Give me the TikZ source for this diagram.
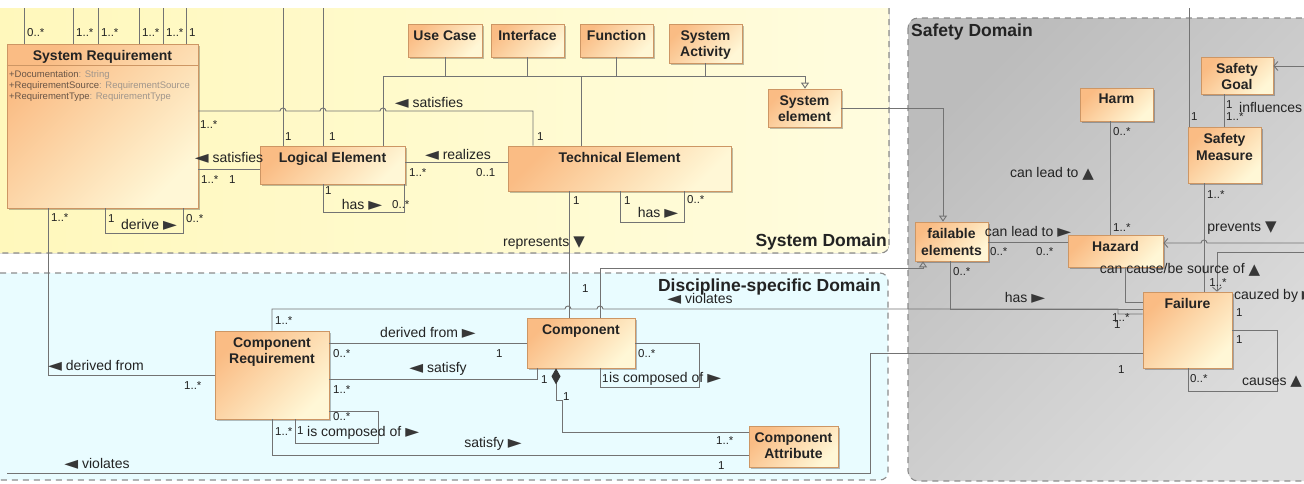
\documentclass[tikz,border=0pt]{standalone}
\usepackage{fontspec}
\setmainfont{Liberation Sans}
\newfontfamily\dv{DejaVu Sans}
\usetikzlibrary{arrows.meta,shadows}
\definecolor{ocA}{RGB}{250,188,132}
\definecolor{ocB}{RGB}{255,247,214}
\definecolor{bordc}{RGB}{205,150,100}
\definecolor{lnc}{RGB}{115,115,115}
\definecolor{txt}{RGB}{35,35,35}
\definecolor{tri}{RGB}{55,55,55}
\definecolor{yelA}{RGB}{255,248,188}
\definecolor{yelB}{RGB}{255,252,222}
\definecolor{cyA}{RGB}{233,252,255}
\definecolor{gyA}{RGB}{188,188,188}
\definecolor{gyB}{RGB}{222,222,222}
\definecolor{dashc}{RGB}{140,140,140}
\definecolor{attn}{RGB}{105,85,70}
\definecolor{attt}{RGB}{160,150,140}
\newcommand{\TriR}{\raisebox{-0.6pt}{\dv\fontsize{18}{18}\selectfont\color{tri}►}}
\newcommand{\TriL}{\raisebox{-0.6pt}{\dv\fontsize{18}{18}\selectfont\color{tri}◄}}
\newcommand{\TriU}{\raisebox{-0.6pt}{\dv\fontsize{15}{15}\selectfont\color{tri}▲}}
\newcommand{\TriD}{\raisebox{-0.6pt}{\dv\fontsize{15}{15}\selectfont\color{tri}▼}}
\begin{document}
\begin{tikzpicture}[x=1pt,y=-1pt,
  cls/.style={draw=bordc,line width=0.7pt,left color=ocA,right color=ocB,shading angle=45,
     drop shadow={shadow xshift=2pt,shadow yshift=-2pt,fill=black,opacity=0.25},inner sep=0pt},
  ttl/.style={anchor=north,align=center,inner xsep=2pt,inner ysep=6.5pt,text=txt,
     font=\fontsize{14}{16.5}\selectfont\bfseries},
  conn/.style={draw=lnc,line width=0.9pt},
  mult/.style={anchor=west,inner sep=0pt,text=txt,font=\fontsize{11.5}{12}\selectfont},
  lbl/.style={inner sep=0pt,text=txt,font=\fontsize{14}{16}\selectfont},
  dom/.style={draw=dashc,line width=1.1pt,dash pattern=on 6pt off 5pt},
  domlbl/.style={inner sep=0pt,text=txt,font=\fontsize{17.5}{20}\selectfont\bfseries},
  gen/.style={conn,-{Triangle[open,length=6pt,width=8pt]}},
  nav/.style={conn,-{Straight Barb[length=4pt,width=9pt]}},
  attr/.style={anchor=west,inner sep=0pt,font=\fontsize{9.5}{11}\selectfont},
]
\useasboundingbox (0,0) rectangle (1304,483);
\fill[white] (0,0) rectangle (1304,483);
% ---------- domains
\fill[left color=yelA,right color=yelB] (0,8) -- (889,8) -- (889,245) arc[start angle=0,end angle=90,radius=8] -- (0,253) -- cycle;
\draw[dom] (889,8) -- (889,245) arc[start angle=0,end angle=90,radius=8] -- (0,253);
\fill[cyA] (0,273) -- (880,273) arc[start angle=-90,end angle=0,radius=8] -- (888,472) arc[start angle=0,end angle=90,radius=8] -- (0,480) -- cycle;
\draw[dom] (0,273) -- (880,273) arc[start angle=-90,end angle=0,radius=8] -- (888,472) arc[start angle=0,end angle=90,radius=8] -- (0,480);
\draw[dom,left color=gyA,right color=gyB,shading angle=45,rounded corners=10pt] (908,18) rectangle (1330,481);
\node[domlbl,anchor=east] (sdl) at (887,242) {System Domain};
\node[domlbl,anchor=east] (dsl) at (881,287) {Discipline-specific Domain};
\node[domlbl,anchor=west] (sfl) at (911,32) {Safety Domain};
% ---------- classes
\node[cls,minimum width=191pt,minimum height=164pt] (sr) at (102.5,126) {};
\node[ttl] (srt) at (sr.north) {\underline{System Requirement}};
\draw[draw=bordc,line width=0.7pt] (sr.west |- 0,65) -- (sr.east |- 0,65);
\node[attr] (a1) at (9,75) {\textcolor{attn}{+Documentation}\textcolor{attt}{ : String}};
\node[attr] (a2) at (9,86) {\textcolor{attn}{+RequirementSource}\textcolor{attt}{ : RequirementSource}};
\node[attr] (a3) at (9,97) {\textcolor{attn}{+RequirementType}\textcolor{attt}{ : RequirementType}};
\node[cls,minimum width=74pt,minimum height=33pt] (uc) at (445,40.5) {};
\node[ttl] at (uc.north) {Use Case};
\node[cls,minimum width=73pt,minimum height=33pt] (ifc) at (527.5,40.5) {};
\node[ttl] at (ifc.north) {Interface};
\node[cls,minimum width=73pt,minimum height=33pt] (fn) at (616.5,40.5) {};
\node[ttl] at (fn.north) {Function};
\node[cls,minimum width=73pt,minimum height=39pt] (sa) at (705.5,43.5) {};
\node[ttl] at (sa.north) {System\\Activity};
\node[cls,minimum width=73pt,minimum height=38pt] (se) at (804.5,108) {};
\node[ttl] at (se.north) {System\\element};
\node[cls,minimum width=145pt,minimum height=38pt] (le) at (332.5,165) {};
\node[ttl] at (le.north) {Logical Element};
\node[cls,minimum width=223pt,minimum height=45pt] (te) at (619.5,168.5) {};
\node[ttl] at (te.north) {Technical Element};
\node[cls,minimum width=114pt,minimum height=88pt] (cr) at (272,375) {};
\node[ttl] at (cr.north) {Component\\Requirement};
\node[cls,minimum width=108pt,minimum height=50pt] (co) at (581,343) {};
\node[ttl] at (co.north) {Component};
\node[cls,minimum width=89pt,minimum height=41pt] (ca) at (793.5,446.5) {};
\node[ttl] at (ca.north) {Component\\Attribute};
\node[cls,minimum width=72pt,minimum height=37pt] (sg) at (1237,75.5) {};
\node[ttl] at (sg.north) {Safety\\Goal};
\node[cls,minimum width=73pt,minimum height=33pt] (hm) at (1116.5,104.5) {};
\node[ttl] at (hm.north) {Harm};
\node[cls,minimum width=73pt,minimum height=56pt] (sm) at (1224.5,155) {};
\node[ttl] at (sm.north) {Safety\\Measure};
\node[cls,minimum width=73pt,minimum height=39pt] (fe) at (951.5,241.5) {};
\node[ttl] at (fe.north) {failable\\elements};
\node[cls,minimum width=95pt,minimum height=32pt] (hz) at (1115.5,251) {};
\node[ttl] at (hz.north) {Hazard};
\node[cls,minimum width=89pt,minimum height=76pt] (fa) at (1187.5,330) {};
\node[ttl] at (fa.north) {Failure};
% ---------- lines from above into System Requirement
\coordinate (t1) at (24,8); \coordinate (t2) at (73,8); \coordinate (t3) at (98,8);
\coordinate (t4) at (139,8); \coordinate (t5) at (163,8); \coordinate (t6) at (186,8);
\coordinate (t7) at (283,8); \coordinate (t8) at (323,8);
\draw[conn] (t1) -- (sr.north -| t1); \node[mult] at (27,33) {0..*};
\draw[conn] (t2) -- (sr.north -| t2); \node[mult] at (76,33) {1..*};
\draw[conn] (t3) -- (sr.north -| t3); \node[mult] at (101,33) {1..*};
\draw[conn] (t4) -- (sr.north -| t4); \node[mult] at (142,33) {1..*};
\draw[conn] (t5) -- (sr.north -| t5); \node[mult] at (166,33) {1..*};
\draw[conn] (t6) -- (sr.north -| t6); \node[mult] at (189,33) {1};
\draw[conn] (t7) -- (le.north -| t7); \node[mult] at (285,137) {1};
\draw[conn] (t8) -- (le.north -| t8); \node[mult] at (329,137) {1};
% ---------- generalization to System element
\coordinate (bus) at (805,76);
\draw[conn] (le.north -| 383,0) |- (bus);
\draw[gen] (bus) -- (se.north -| bus);
\draw[conn] (uc.south) -- (uc.south |- bus);
\draw[conn] (ifc.south) -- (ifc.south |- bus);
\draw[conn] (fn.south) -- (fn.south |- bus);
\draw[conn] (sa.south) -- (sa.south |- bus);
\draw[conn] (te.north -| 581,0) -- (581,76);
% ---------- satisfies TE -> SR
\draw[conn] (te.north -| 533,0) |- (386,111) arc[start angle=0,end angle=-180,radius=3] -- (326,111) arc[start angle=0,end angle=-180,radius=3] -- (286,111) arc[start angle=0,end angle=-180,radius=3] -- (sr.east |- 0,111);
\node[lbl] at (429,103) {\TriL\ satisfies};
\node[mult] at (200,125) {1..*};
\node[mult] at (537,137) {1};
% ---------- satisfies LE -> SR
\draw[conn] (le.west |- 0,169) -- (sr.east |- 0,169);
\node[lbl] at (229,158) {\TriL\ satisfies};
\node[mult] at (201,180) {1..*};
\node[mult] at (229,180) {1};
% ---------- derive loop
\draw[conn] (sr.south -| 105,0) |- (183,233) -- (sr.south -| 183,0);
\node[mult] at (108,219) {1};
\node[lbl] at (149,225) {derive \TriR};
\node[mult] at (186,219) {0..*};
% ---------- derived from SR -> CR
\draw[conn] (sr.south -| 48,0) |- (cr.west |- 0,375);
\node[mult] at (51,218) {1..*};
\node[lbl] at (96,366) {\TriL\ derived from};
\node[mult] at (184,386) {1..*};
% ---------- realizes
\draw[conn] (te.west |- 0,162) -- (le.east |- 0,162);
\node[lbl] at (458,155) {\TriL\ realizes};
\node[mult] at (409,173) {1..*};
\node[mult] at (476,173) {0..1};
% ---------- LE has loop
\draw[conn] (le.south -| 323,0) |- (404,212) -- (le.south -| 404,0);
\node[mult] at (325,191) {1};
\node[lbl] at (362,205) {has \TriR};
\node[mult] at (392,205) {0..*};
% ---------- TE has loop
\draw[conn] (te.south -| 620,0) |- (684,222) -- (te.south -| 684,0);
\node[mult] at (624,201) {1};
\node[lbl] at (658,213) {has \TriR};
\node[mult] at (687,200) {0..*};
% ---------- represents
\draw[conn] (te.south -| 569,0) -- (co.north -| 569,0);
\node[mult] at (573,201) {1};
\node[lbl] at (544,243) {represents \TriD};
\node[mult] at (582,289) {1};
% ---------- Component -> failable elements
\coordinate (g2) at (923,268);
\draw[gen] (co.north -| 600,0) |- (g2) -- (fe.south -| g2);
% ---------- violates CR -> Failure
\draw[conn] (cr.north -| 272,0) |- (565,309) arc[start angle=180,end angle=360,radius=3] -- (597,309) arc[start angle=180,end angle=360,radius=3] -- (1118,309) -- (1118,314) -- (fa.west |- 0,314);
\node[mult] at (275,321) {1..*};
\node[lbl] at (700,299) {\TriL\ violates};
\node[mult] at (1112,318) {1..*};
\node[mult] at (1114,325) {1};
% ---------- has failable -> Failure
\draw[conn] (fe.south -| 950,0) |- (fa.west |- 0,309);
\node[mult] at (953,272) {0..*};
\node[lbl] at (1025,298) {has \TriR};
% ---------- derived from CR -> Component
\draw[conn] (cr.east |- 0,343) -- (co.west |- 0,343);
\node[lbl] at (428,333) {derived from \TriR};
\node[mult] at (333,354) {0..*};
\node[mult] at (496,354) {1};
% ---------- satisfy Component -> CR
\draw[conn] (co.south -| 537,0) |- (cr.east |- 0,379);
\node[lbl] at (438,369) {\TriL\ satisfy};
\node[mult] at (333,390) {1..*};
\node[mult] at (541,380) {1};
% ---------- CR is composed of
\draw[conn] (cr.east |- 0,411) -| (378,443) -| (cr.south -| 295,0);
\node[mult] at (333,417) {0..*};
\node[mult] at (297,431) {1};
\node[lbl,anchor=west] at (307,433) {is composed of \TriR};
% ---------- Component is composed of
\draw[conn] (co.east |- 0,343) -| (699,387) -| (co.south -| 600,0);
\node[mult] at (638,354) {0..*};
\node[mult] at (602,379) {1};
\node[lbl,anchor=west] at (609,379) {is composed of \TriR};
% ---------- composition Component - Component Attribute
\draw[conn,{Diamond[length=16pt,width=9pt,color=tri]}-] (co.south -| 556,0) -- (556,400) -- (562,400) |- (ca.west |- 0,432);
\node[mult] at (563,397) {1};
\node[mult] at (716,441) {1..*};
% ---------- satisfy CR -> Component Attribute
\draw[conn] (cr.south -| 272,0) |- (ca.west |- 0,455);
\node[mult] at (275,432) {1..*};
\node[lbl] at (493,444) {satisfy \TriR};
\node[mult] at (718,466) {1};
% ---------- violates (bottom) -> Failure
\coordinate (vl) at (7,473);
\draw[conn] (vl) -| (870,353) -- (fa.west |- 0,353);
\node[lbl] at (97,464) {\TriL\ violates};
\node[mult] at (1118,370) {1};
% ---------- System element -> failable elements
\draw[gen] (se.east |- 0,108) -| (fe.north -| 943,0);
% ---------- Harm - Hazard
\draw[conn] (hz.north -| 1110,0) -- (hm.south -| 1110,0);
\node[mult] at (1113,132) {0..*};
\node[lbl] at (1052,174) {can lead to \TriU};
\node[mult] at (1113,228) {1..*};
% ---------- failable -> Hazard
\draw[conn] (fe.east |- 0,242) -- (hz.west |- 0,242);
\node[lbl] at (1028,232) {can lead to \TriR};
\node[mult] at (990,252) {0..*};
\node[mult] at (1036,252) {0..*};
% ---------- Safety Goal - Safety Measure
\draw[conn] (sg.south -| 1224,0) -- (sm.north -| 1224,0);
\node[mult] at (1226,105) {1};
\node[lbl,anchor=west] at (1239,107) {influences};
\node[mult] at (1226,117) {1..*};
\coordinate (rg) at (1304,66);
\draw[nav] (rg) -- (sg.east |- rg);
\coordinate (tm) at (1189,8);
\draw[conn] (tm) -- (sm.north -| tm);
\node[mult] at (1191,117) {1};
% ---------- prevents
\draw[conn] (sm.south -| 1204,0) -- (fa.north -| 1204,0);
\node[mult] at (1207,195) {1..*};
\node[lbl] at (1242,228) {prevents \TriD};
\coordinate (rh) at (1304,243);
\draw[nav] (rh) -- (1207,243) arc[start angle=0,end angle=-180,radius=3] -- (hz.east |- rh);
\coordinate (rf) at (1304,252);
\draw[nav] (rf) -| (fa.north -| 1217,0);
\node[mult,anchor=center] at (1218,283) {1..*};
% ---------- can cause / be source of
\draw[conn] (hz.south -| 1125,0) |- (fa.west |- 0,302);
\node[lbl] at (1180,270) {can cause/be source of \TriU};
% ---------- causes loop
\draw[conn] (fa.east |- 0,330) -| (1277,391) -| (fa.south -| 1188,0);
\node[mult] at (1236,340) {1};
\node[mult] at (1190,379) {0..*};
\node[lbl,anchor=west] at (1242,382) {causes \TriU};
\node[lbl,anchor=west] at (1234,296) {cauzed by \TriR};
\node[mult] at (1236,313) {1};
\end{tikzpicture}
\end{document}
